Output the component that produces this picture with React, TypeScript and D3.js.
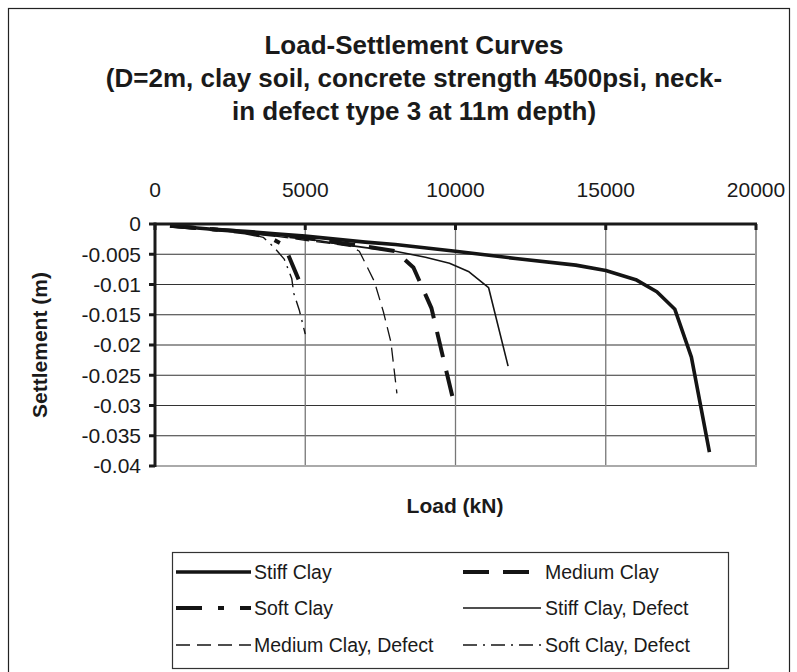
import React from "react";
import * as d3 from "d3";

// ---- data (Load kN, Settlement m) ----
const stiffLoad = [500, 1000, 2000, 3000, 4000, 5000, 6000, 7000, 8000, 10000, 12000, 14000, 15000, 16000, 16700, 17300, 17850, 18450];
const stiffSettle = [-0.0003, -0.0005, -0.0009, -0.0012, -0.0016, -0.002, -0.0025, -0.003, -0.0034, -0.0045, -0.0057, -0.0068, -0.0077, -0.0092, -0.0112, -0.0141, -0.022, -0.0377];

const mediumLoad = [500, 1000, 2000, 3000, 4000, 5000, 6000, 7000, 8000, 8600, 9200, 9550, 9900];
const mediumSettle = [-0.0003, -0.0005, -0.0009, -0.0013, -0.0018, -0.0023, -0.003, -0.0037, -0.0045, -0.0072, -0.0139, -0.0213, -0.0286];

const softLoad = [500, 1000, 2000, 3000, 3800, 4300, 4950];
const softSettle = [-0.0003, -0.0005, -0.0009, -0.0014, -0.0022, -0.0035, -0.0112];

const stiffDefLoad = [500, 1000, 2000, 3000, 4000, 5000, 6000, 7000, 8000, 9000, 9800, 10450, 11100, 11750];
const stiffDefSettle = [-0.0003, -0.0005, -0.0009, -0.0013, -0.0018, -0.0024, -0.0032, -0.0039, -0.0045, -0.0055, -0.0065, -0.0079, -0.0105, -0.0235];

const mediumDefLoad = [500, 1000, 2000, 3000, 4000, 5000, 6000, 6500, 6800, 7300, 7600, 7850, 8050];
const mediumDefSettle = [-0.0003, -0.0005, -0.001, -0.0014, -0.002, -0.0027, -0.0033, -0.0037, -0.0045, -0.0095, -0.0145, -0.0195, -0.028];

const softDefLoad = [500, 1000, 2000, 3000, 3600, 3950, 4300, 4550, 4620, 4800, 5000];
const softDefSettle = [-0.0003, -0.0005, -0.001, -0.0015, -0.0022, -0.0038, -0.0058, -0.009, -0.0115, -0.0142, -0.0182];

const xTicks = [0, 5000, 10000, 15000, 20000];
const yTicks = [0, -0.005, -0.01, -0.015, -0.02, -0.025, -0.03, -0.035, -0.04];
const yTickLabels = ["0", "-0.005", "-0.01", "-0.015", "-0.02", "-0.025", "-0.03", "-0.035", "-0.04"];

const titleLines = [
  "Load-Settlement Curves",
  "(D=2m, clay soil, concrete strength 4500psi, neck-",
  "in defect type 3 at 11m depth)",
];

const seriesNames = ["Stiff Clay", "Medium Clay", "Soft Clay", "Stiff Clay, Defect", "Medium Clay, Defect", "Soft Clay, Defect"];

const FONT = "'Liberation Sans', Arial, Helvetica, sans-serif";

export default function App() {
  const x = d3.scaleLinear().domain([0, 20000]).range([155, 756]);
  const y = d3.scaleLinear().domain([0, -0.04]).range([224, 466]);

  const styles = [
    { w: 3.6, dash: "" },
    { w: 4, dash: "26,14" },
    { w: 4, dash: "26,16,6,16" },
    { w: 1.6, dash: "" },
    { w: 1.3, dash: "14,7" },
    { w: 1.4, dash: "14,6,2,6" },
  ];
  const data = [
    [stiffLoad, stiffSettle],
    [mediumLoad, mediumSettle],
    [softLoad, softSettle],
    [stiffDefLoad, stiffDefSettle],
    [mediumDefLoad, mediumDefSettle],
    [softDefLoad, softDefSettle],
  ];
  const line = d3
    .line<[number, number]>()
    .x((d) => x(d[0]))
    .y((d) => y(d[1]));

  const legendPos = [
    { x1: 176, x2: 251, tx: 254, ty: 572 },
    { x1: 463, x2: 541, tx: 545, ty: 572 },
    { x1: 176, x2: 251, tx: 254, ty: 608 },
    { x1: 463, x2: 541, tx: 545, ty: 608 },
    { x1: 176, x2: 251, tx: 254, ty: 645 },
    { x1: 463, x2: 541, tx: 545, ty: 645 },
  ];

  return (
    <svg
      width={797}
      height={672}
      style={{ position: "absolute", left: 0, top: 0, background: "#fff" }}
      fontFamily={FONT}
    >
      <rect x={0} y={0} width={797} height={672} fill="#fff" />
      {/* outer chart border */}
      <rect x={8.5} y={8.5} width={781} height={700} fill="none" stroke="#222" strokeWidth={1.2} />

      {/* title */}
      {titleLines.map((t, i) => (
        <text key={i} x={414} y={54 + i * 33} textAnchor="middle" fontSize={26} fontWeight="bold" fill="#1a1a1a">
          {t}
        </text>
      ))}

      {/* horizontal gridlines */}
      {yTicks.slice(1, -1).map((v) => (
        <line key={"h" + v} x1={155} x2={756} y1={y(v)} y2={y(v)} stroke="#333" strokeWidth={1.1} />
      ))}
      {/* vertical gridlines */}
      {xTicks.slice(1, -1).map((v) => (
        <line key={"v" + v} x1={x(v)} x2={x(v)} y1={224} y2={466} stroke="#777" strokeWidth={1.3} />
      ))}
      {/* plot border right & bottom */}
      <line x1={756} x2={756} y1={224} y2={467} stroke="#999" strokeWidth={2} />
      <line x1={155} x2={757} y1={466} y2={466} stroke="#aaa" strokeWidth={2} />

      {/* series */}
      {data.map(([xs, ys], i) => (
        <path
          key={i}
          d={line(xs.map((v, j) => [v, ys[j]] as [number, number])) || ""}
          fill="none"
          stroke="#141414"
          strokeWidth={styles[i].w}
          strokeDasharray={styles[i].dash || undefined}
          strokeLinejoin="round"
        />
      ))}

      {/* axes */}
      <line x1={155} x2={757} y1={224} y2={224} stroke="#1a1a1a" strokeWidth={3} />
      <line x1={155} x2={155} y1={222.5} y2={467} stroke="#1a1a1a" strokeWidth={3} />
      {xTicks.map((v) => (
        <line key={"xt" + v} x1={x(v)} x2={x(v)} y1={224} y2={230} stroke="#1a1a1a" strokeWidth={3} />
      ))}
      {yTicks.map((v) => (
        <line key={"yt" + v} x1={149} x2={155} y1={y(v)} y2={y(v)} stroke="#1a1a1a" strokeWidth={3} />
      ))}
      {xTicks.map((v) => (
        <text key={"xl" + v} x={x(v)} y={197} textAnchor="middle" fontSize={21} fill="#1a1a1a">
          {d3.format("d")(v)}
        </text>
      ))}
      {yTicks.map((v, i) => (
        <text key={"yl" + v} x={141} y={y(v)} dy="0.35em" textAnchor="end" fontSize={21} fill="#1a1a1a">
          {yTickLabels[i]}
        </text>
      ))}

      {/* axis titles */}
      <text x={455} y={513} textAnchor="middle" fontSize={21} fontWeight="bold" fill="#1a1a1a">
        Load (kN)
      </text>
      <text
        transform={`translate(47,345) rotate(-90)`}
        textAnchor="middle"
        fontSize={21}
        fontWeight="bold"
        fill="#1a1a1a"
      >
        Settlement (m)
      </text>

      {/* legend */}
      <rect x={172.5} y={552.5} width={556} height={116} fill="#fff" stroke="#333" strokeWidth={1.2} />
      {seriesNames.map((n, i) => (
        <g key={n}>
          <line
            x1={legendPos[i].x1}
            x2={legendPos[i].x2}
            y1={legendPos[i].ty}
            y2={legendPos[i].ty}
            stroke="#141414"
            strokeWidth={styles[i].w}
            strokeDasharray={styles[i].dash || undefined}
          />
          <text x={legendPos[i].tx} y={legendPos[i].ty} dy="0.35em" fontSize={19.5} fill="#1a1a1a">
            {n}
          </text>
        </g>
      ))}
    </svg>
  );
}
